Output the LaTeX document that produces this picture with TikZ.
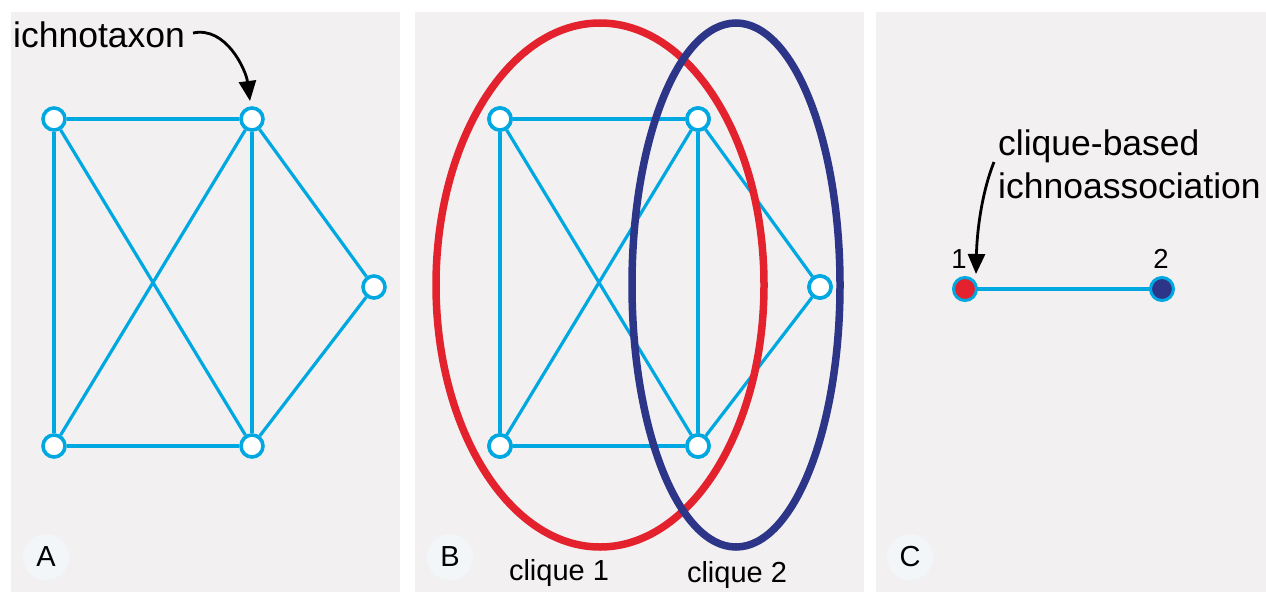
\documentclass[tikz,border=0pt]{standalone}
\usepackage{fontspec}
\setmainfont{Liberation Sans}
\usetikzlibrary{arrows.meta}
\definecolor{panelbg}{HTML}{F2F0F1}
\definecolor{edgecyan}{HTML}{00A8E1}
\definecolor{cred}{HTML}{E3222D}
\definecolor{cblue}{HTML}{2D3589}
\definecolor{lblbg}{HTML}{F3F6F9}
\tikzset{
  panel/.style={fill=panelbg, draw=none},
  vert/.style={circle, draw=edgecyan, line width=3.6pt, fill=white, minimum size=22pt, inner sep=0pt},
  cnode/.style={circle, draw=edgecyan, line width=3pt, minimum size=23pt, inner sep=0pt},
  edge/.style={draw=edgecyan, line width=3.2pt},
  lbl/.style={circle, fill=lblbg, minimum size=46pt, inner sep=0pt, font=\fontsize{29}{34}\selectfont},
  callout/.style={draw=black, line width=2.8pt, -{Triangle[length=20pt,width=17pt]}},
  clique/.style={line width=7.5pt}
}
\begin{document}
\begin{tikzpicture}[x=1pt,y=-1pt]
\useasboundingbox (0,0) rectangle (1266,592);
\fill[white] (0,0) rectangle (1266,592);
% panels
\path[panel] (11,12) rectangle (400,592);
\path[panel] (415,12) rectangle (864,592);
\path[panel] (876,12) rectangle (1266,592);

% Panel A
\node[vert] (a1) at (54,119) {};
\node[vert] (a2) at (252,119) {};
\node[vert] (a3) at (54,446) {};
\node[vert] (a4) at (252,446) {};
\node[vert] (a5) at (374,287) {};
\path[edge] (a1) -- (a2);
\path[edge] (a1) -- (a3);
\path[edge] (a1) -- (a4);
\path[edge] (a2) -- (a3);
\path[edge] (a2) -- (a4);
\path[edge] (a2) -- (a5);
\path[edge] (a3) -- (a4);
\path[edge] (a4) -- (a5);
\node[anchor=base west, inner sep=0pt, font=\fontsize{35.5}{40}\selectfont] (tx) at (13,47) {ichnotaxon};
\coordinate (txs) at (193,33);
\draw[callout] (txs) .. controls (226,26) and (246,70) .. (250,101);
\node[lbl] (la) at (46,557) {A};

% Panel B
\node[vert] (b1) at (500,119) {};
\node[vert] (b2) at (698,119) {};
\node[vert] (b3) at (500,446) {};
\node[vert] (b4) at (698,446) {};
\node[vert] (b5) at (820,287) {};
\path[edge] (b1) -- (b2);
\path[edge] (b1) -- (b3);
\path[edge] (b1) -- (b4);
\path[edge] (b2) -- (b3);
\path[edge] (b2) -- (b4);
\path[edge] (b2) -- (b5);
\path[edge] (b3) -- (b4);
\path[edge] (b4) -- (b5);
\node[vert] at (b1) {};
\node[vert] at (b2) {};
\node[vert] at (b3) {};
\node[vert] at (b4) {};
\node[vert] at (b5) {};
\draw[clique, cred] (600,285) ellipse [x radius=164, y radius=262];
\draw[clique, cblue] (736,285) ellipse [x radius=104, y radius=262];
\node[anchor=base, inner sep=0pt, font=\fontsize{29}{34}\selectfont] (c1) at (559,580) {clique 1};
\node[anchor=base, inner sep=0pt, font=\fontsize{29}{34}\selectfont] (c2) at (737,582) {clique 2};
\node[lbl] (lb) at (450,557) {B};

% Panel C
\path[edge] (965,289) -- (1162,289);
\node[cnode, fill=cred] (n1) at (965,289) {};
\node[cnode, fill=cblue] (n2) at (1162,289) {};
\node[anchor=base, inner sep=0pt, font=\fontsize{27.5}{30}\selectfont] (t1) at (959,268) {1};
\node[anchor=base, inner sep=0pt, font=\fontsize{27.5}{30}\selectfont] (t2) at (1161,268) {2};
\node[anchor=base west, inner sep=0pt, font=\fontsize{35.5}{40}\selectfont] (cb) at (998,155) {clique-based};
\node[anchor=base west, inner sep=0pt, font=\fontsize{35.5}{40}\selectfont] (ia) at (998,198) {ichnoassociation};
\coordinate (cs) at (994,162);
\draw[callout] (cs) .. controls (982,192) and (977,230) .. (976,274);
\node[lbl] (lc) at (910,557) {C};
\end{tikzpicture}
\end{document}
